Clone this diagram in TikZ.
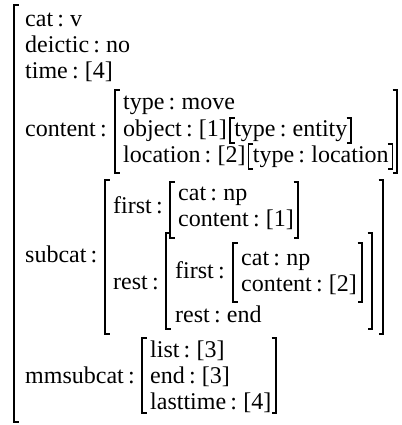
\documentclass[tikz,border=0pt]{standalone}
\usepackage{fontspec}
\setmainfont{Liberation Serif}
\usetikzlibrary{calc}
\newcommand\avmfont{\fontsize{24}{26}\selectfont\spaceskip 4.2pt\relax}
\newcommand\avmL[3]{\draw[br] (#1+4.5,#2) -- (#1,#2) -- (#1,#3) -- (#1+4.5,#3);}
\newcommand\avmR[3]{\draw[br] (#1-4.5,#2) -- (#1,#2) -- (#1,#3) -- (#1-4.5,#3);}
\newcommand\avmbox[1]{%
  \draw[br] ($(#1.base west)+(0.5,-18)$) -- ++(-4.5,0) |- ($(#1.base west)+(0.5,7)$);
  \draw[br] ($(#1.base east)+(-1,-18)$) -- ++(4.5,0) |- ($(#1.base east)+(-1,7)$);}
\begin{document}
\begin{tikzpicture}[x=1pt,y=-1pt,
  txt/.style={anchor=base west,inner sep=0pt,font=\avmfont},
  br/.style={line width=1.2pt}]
\useasboundingbox (0,0) rectangle (401,425);
% outer
\avmL{14}{5}{422}
\node[txt] (cat) at (25,27) {cat : v};
\node[txt] (dei) at (25,53) {deictic : no};
\node[txt] (time) at (25,79) {time : [4]};
% content
\node[txt] (contl) at (25,136) {content :};
\avmL{115}{90}{173}
\avmR{397}{90}{173}
\node[txt] (type) at (123,110) {type : move};
\node[txt] (obj) at (123,136) {object : [1]};
\node[txt] (ent) at ($(obj.base east)+(7,0)$) {type : entity};
\avmbox{ent}
\node[txt] (loc) at (123,162) {location : [2]};
\node[txt] (locv) at ($(loc.base east)+(7,0)$) {type : location};
\avmbox{locv}
% subcat
\node[txt] (subl) at (25,262) {subcat :};
\avmL{105}{180}{334}
\avmR{383}{180}{334}
\node[txt] (f1l) at (113,213) {first :};
\avmL{170}{182}{238}
\avmR{298}{182}{238}
\node[txt] (f1a) at (178,200) {cat : np};
\node[txt] (f1b) at (178,226) {content : [1]};
\node[txt] (r1l) at (113,289) {rest :};
\avmL{166}{233}{329}
\avmR{372}{233}{329}
\node[txt] (f2l) at (175,278) {first :};
\avmL{233}{243}{302}
\avmR{362}{243}{302}
\node[txt] (f2a) at (241,265) {cat : np};
\node[txt] (f2b) at (241,291) {content : [2]};
\node[txt] (r2) at (175,322) {rest : end};
% mmsubcat
\node[txt] (mml) at (25,383) {mmsubcat :};
\avmL{142}{338}{413}
\avmR{276}{338}{413}
\node[txt] (mm1) at (150,357) {list : [3]};
\node[txt] (mm2) at (150,383) {end : [3]};
\node[txt] (mm3) at (150,409) {lasttime : [4]};
\end{tikzpicture}
\end{document}
